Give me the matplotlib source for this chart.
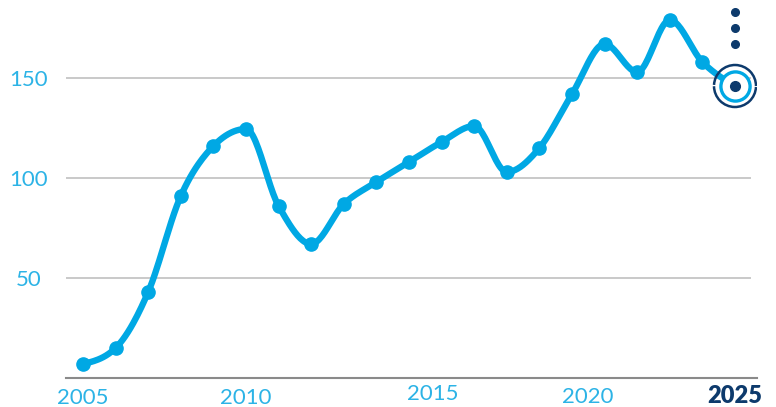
import numpy as np
import matplotlib
matplotlib.use("Agg")
import matplotlib.pyplot as plt
import matplotlib.transforms as mtransforms
from matplotlib.patches import Arc

# data
years = list(range(2005, 2026))
values = [7, 15, 43, 91, 116, 124.5, 86, 67, 87, 98, 108, 118, 126,
          103, 115, 142, 167, 153, 179, 158, 146]
x_ticks = [2005, 2010, 2015, 2020, 2025]
x_tick_labels = ["2005", "2010", "2015", "2020", "2025"]
y_ticks = [50, 100, 150]
y_tick_labels = ["50", "100", "150"]

CYAN = "#00a8e4"
LABEL_CYAN = "#2cb3e6"
NAVY = "#0d3a6c"
GRID = "#c9c9c9"


def monotone_curve(x, y, steps=24):
    """monotone cubic (d3 monotoneX style) through the points"""
    x = np.asarray(x, float)
    y = np.asarray(y, float)
    h = np.diff(x)
    s = np.diff(y) / h
    m = np.zeros_like(y)
    for k in range(1, len(y) - 1):
        p = (s[k - 1] * h[k] + s[k] * h[k - 1]) / (h[k - 1] + h[k])
        m[k] = (np.sign(s[k - 1]) + np.sign(s[k])) * min(
            abs(s[k - 1]), abs(s[k]), 0.5 * abs(p))
    m[0] = (3 * s[0] - m[1]) / 2
    m[-1] = (3 * s[-1] - m[-2]) / 2
    xs, ys = [], []
    for k in range(len(h)):
        t = np.linspace(0, 1, steps, endpoint=False)
        h00 = 2 * t**3 - 3 * t**2 + 1
        h10 = t**3 - 2 * t**2 + t
        h01 = -2 * t**3 + 3 * t**2
        h11 = t**3 - t**2
        xs.append(x[k] + t * h[k])
        ys.append(h00 * y[k] + h10 * h[k] * m[k] + h01 * y[k + 1]
                  + h11 * h[k] * m[k + 1])
    xs.append([x[-1]])
    ys.append([y[-1]])
    return np.concatenate(xs), np.concatenate(ys)


W, H, DPI = 776, 407, 100
fig = plt.figure(figsize=(W / DPI, H / DPI), dpi=DPI)
ax_left, ax_right, ax_bottom = 66, 757, 378
ax = fig.add_axes([ax_left / W, (H - ax_bottom) / H,
                   (ax_right - ax_left) / W, ax_bottom / H])

x_per_px = 1 / 32.6
ax.set_xlim(2005 - (83 - ax_left) * x_per_px,
            2025 + (ax_right - 735) * x_per_px)
ax.set_ylim(0, 189)
px_x = 1 / x_per_px          # px per year
px_y = ax_bottom / 189       # px per unit

for s in ["top", "right", "left"]:
    ax.spines[s].set_visible(False)
ax.spines["bottom"].set_color("#8a8a8a")
ax.spines["bottom"].set_linewidth(1.5)

for v in y_ticks:
    ax.axhline(v, xmin=0, xmax=0.99, color=GRID, lw=1.4, zorder=1)

# line + markers
cx, cy = monotone_curve(years, values)
ax.plot(cx, cy, color=CYAN, lw=4.6, solid_capstyle="round", zorder=3)
ax.plot(years[:-1], values[:-1], "o", color=CYAN, ms=9.5, zorder=4)

# highlighted last point
lx, ly = years[-1], values[-1]
ax.plot(lx, ly, "o", ms=21, mfc="white", mec=CYAN, mew=2.4, zorder=5)
ax.plot(lx, ly, "o", ms=7, color=NAVY, zorder=6)
r = 21
for t1, t2 in [(-3, 140), (190, 322)]:
    ax.add_patch(Arc((lx, ly), 2 * r / px_x, 2 * r / px_y, theta1=t1,
                     theta2=t2, color=NAVY, lw=1.8, zorder=6))
for k in range(3):
    ax.plot(lx, ly + (42 + 16 * k) / px_y, "o", ms=5.5, color=NAVY,
            zorder=6, clip_on=False)

# ticks
font = ["Lato", "DejaVu Sans"]
ax.set_yticks(y_ticks)
ax.set_yticklabels(y_tick_labels, family=font, fontsize=16,
                   color=LABEL_CYAN, ha="center")
ax.tick_params(axis="y", length=0, pad=27)
ax.set_xticks(x_ticks)
ax.set_xticklabels(x_tick_labels, family=font, fontsize=16,
                   color=LABEL_CYAN)
ax.tick_params(axis="x", length=0, pad=6)
# the reference nudges some year labels around
shifts = [(0, -2), (0, -2), (24, 2), (16, -1), (0, 1)]
for lab, (dx, dy) in zip(ax.get_xticklabels(), shifts):
    lab.set_transform(lab.get_transform() + mtransforms.ScaledTranslation(
        dx / DPI, dy / DPI, fig.dpi_scale_trans))
lab = ax.get_xticklabels()[-1]
lab.set_fontweight("heavy")
lab.set_fontsize(17)
lab.set_color(NAVY)

fig.savefig("out.png", dpi=DPI)
